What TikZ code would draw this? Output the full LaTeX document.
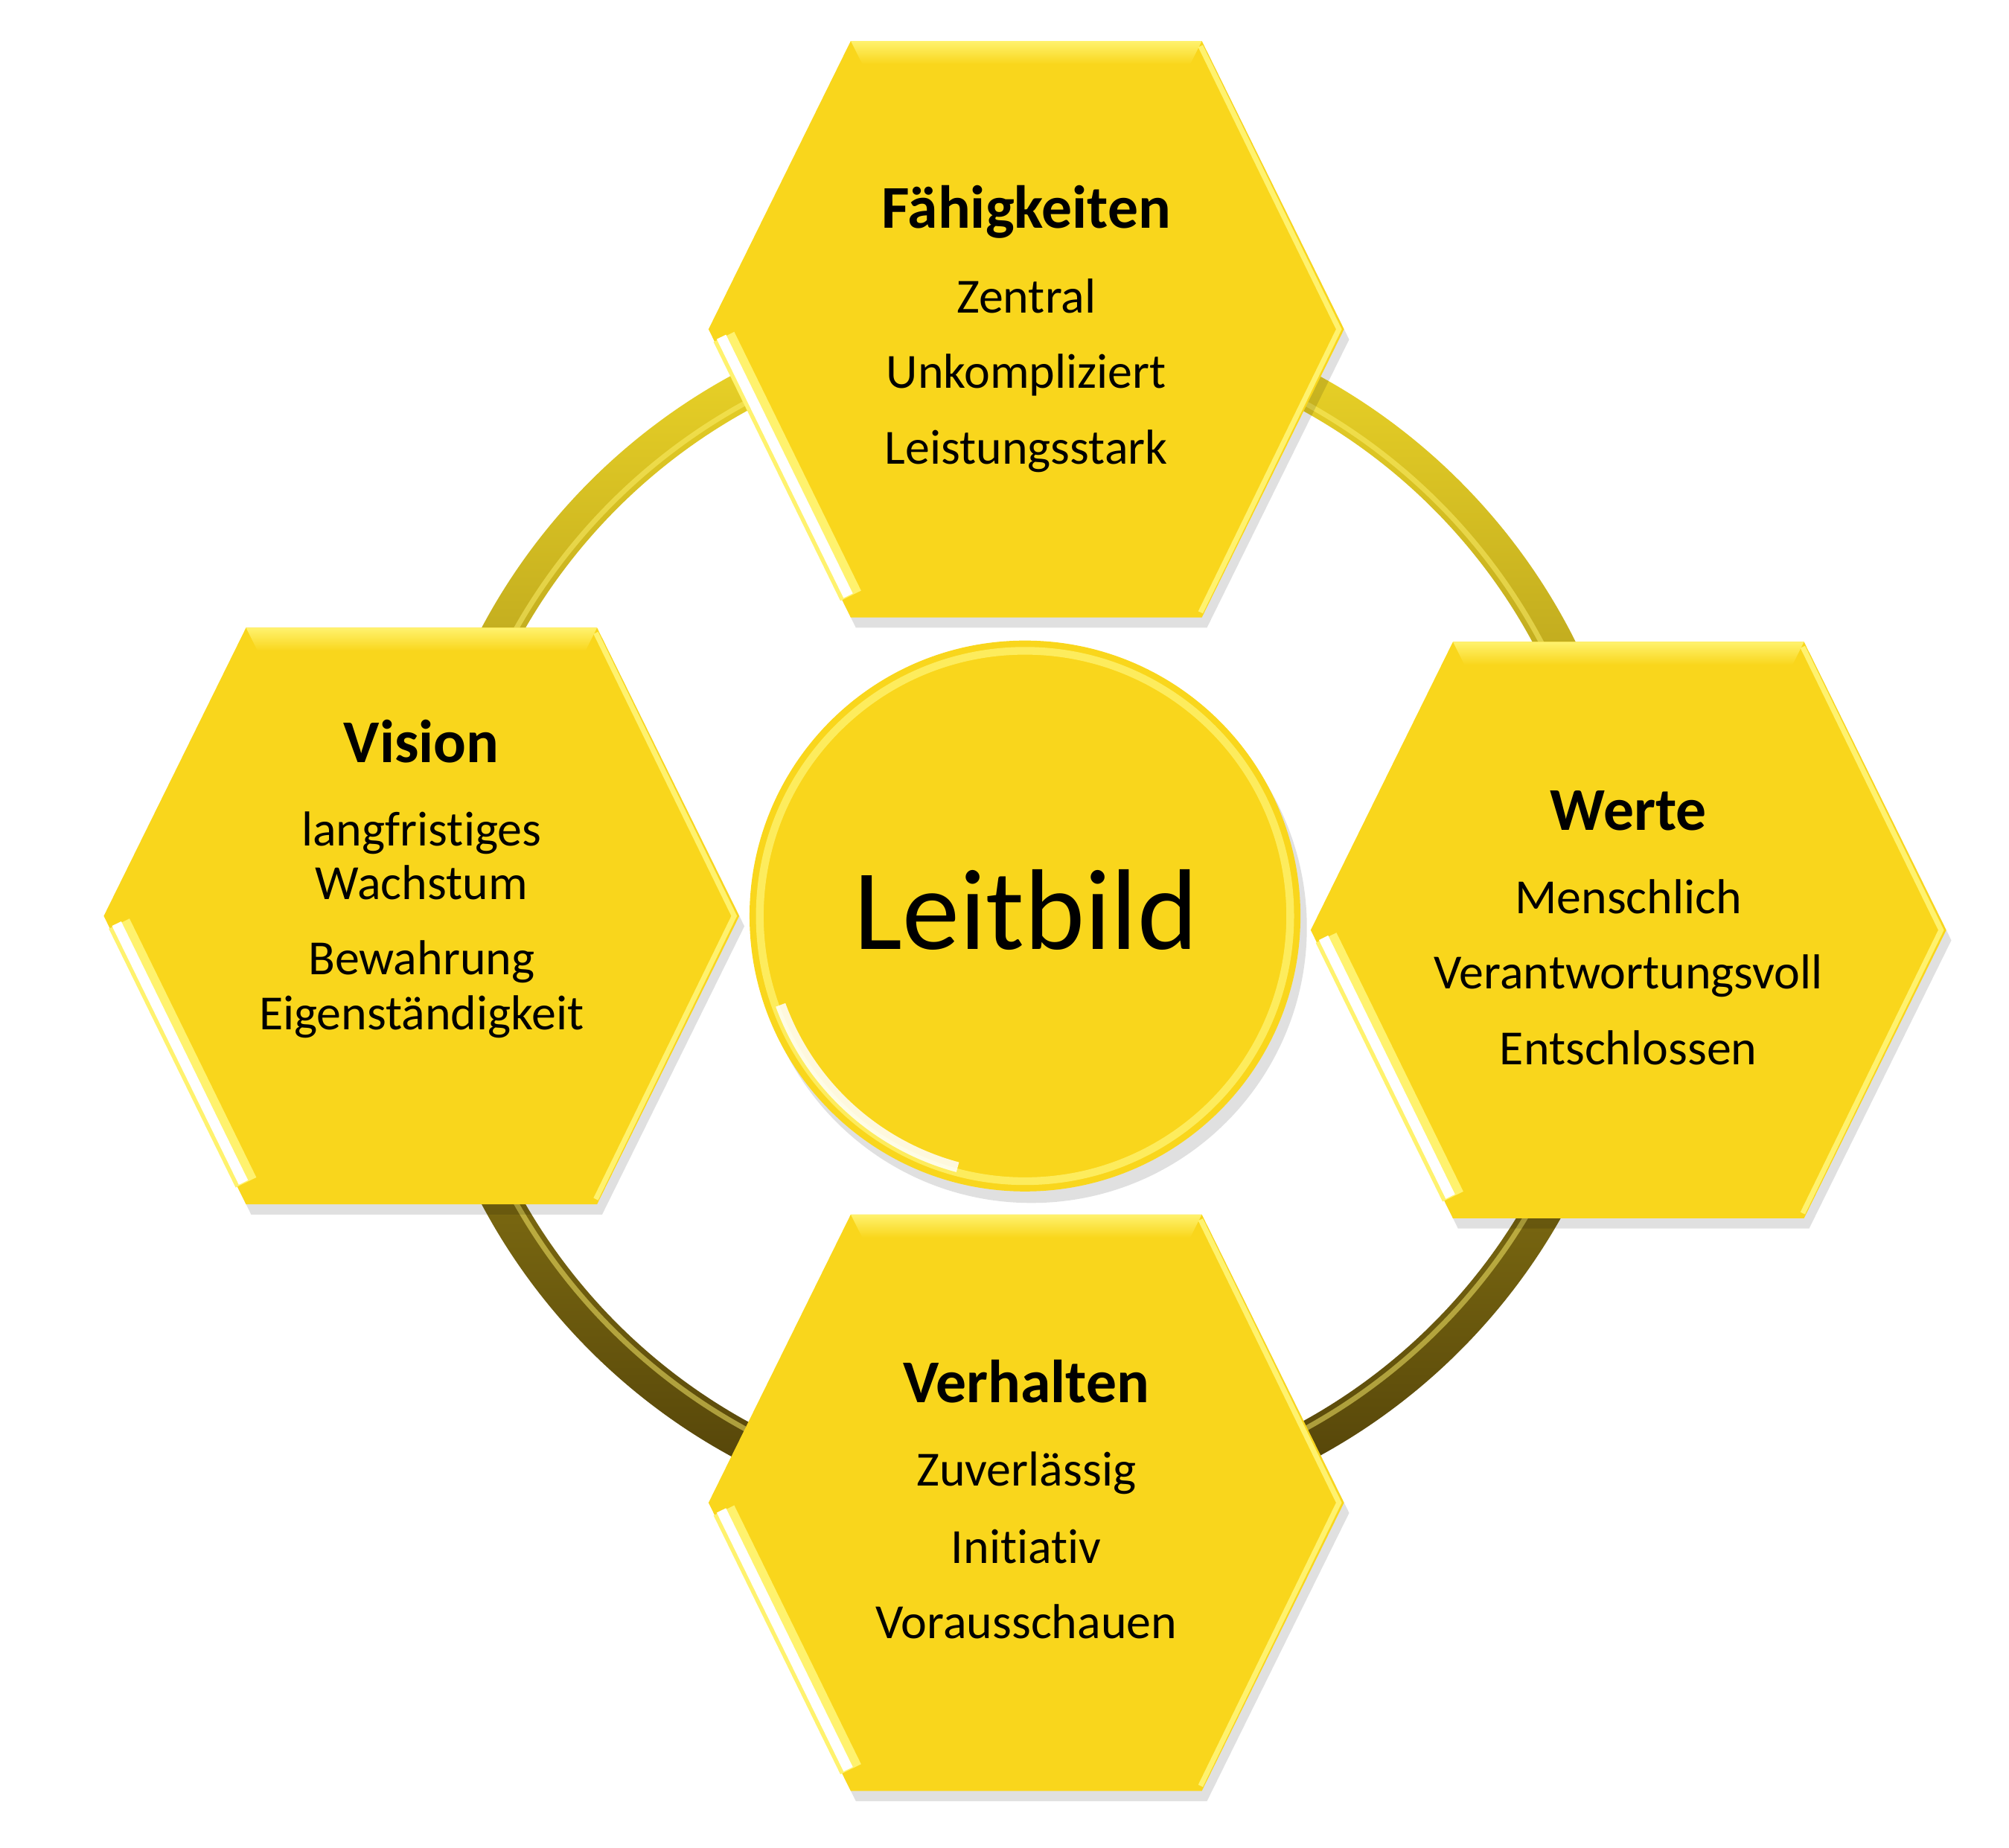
\documentclass[tikz,border=0pt]{standalone}
\usepackage{fontspec}
\setmainfont[Ligatures=NoCommon]{Carlito}
\definecolor{gelb}{RGB}{249,214,28}
\definecolor{hellgelb}{RGB}{255,242,110}
\definecolor{ringhell}{RGB}{240,216,40}
\definecolor{ringmitte}{RGB}{200,174,24}
\definecolor{ringdunkel}{RGB}{78,62,8}
\begin{document}
\begin{tikzpicture}[x=0.1mm,y=-0.1mm,
    titel/.style={font=\fontsize{13.5}{16}\selectfont\bfseries,anchor=base},
    zeile/.style={font=\fontsize{10.9}{13}\selectfont,anchor=base}]
  \useasboundingbox (0,0) rectangle (1568,1442);
  \shade[even odd rule,top color=ringhell,middle color=ringmitte,bottom color=ringdunkel]
    (800,715) circle (48mm) (800,715) circle (45mm);
  \draw[hellgelb,opacity=0.5,line width=0.4mm] (800,715) circle (45.6mm);
  \foreach \cx/\cy in {801/257,329/715,1271/726,801/1173} {
    \begin{scope}[shift={(\cx,\cy)}]
      \fill[black,opacity=0.12] (-244,8) -- (-133,233) -- (141,233) -- (252,8) -- (141,-217) -- (-133,-217) -- cycle;
      \fill[gelb] (-248,0) -- (-137,225) -- (137,225) -- (248,0) -- (137,-225) -- (-137,-225) -- cycle;
      \shade[top color=hellgelb,bottom color=gelb] (-137,-225) -- (137,-225) -- (128,-207) -- (-128,-207) -- cycle;
      \draw[hellgelb,line width=0.4mm] (136,-221) -- (244,0) -- (136,221);
      \draw[hellgelb,line width=1.8mm] (-236,6) -- (-137,208);
      \draw[white,line width=0.8mm] (-238,6) -- (-139,208);
    \end{scope}
  }
  \fill[black,opacity=0.12] (805,724) circle (21.5mm);
  \fill[gelb] (800,715) circle (21.5mm);
  \draw[hellgelb,line width=0.6mm,opacity=0.8] (800,715) circle (20.7mm);
  \draw[white,line width=0.8mm,opacity=0.85] (800,715) ++(200:20.3mm) arc[start angle=200,end angle=255,radius=20.3mm];
  \node[font=\fontsize{25.5}{30}\selectfont,anchor=base] (leitbild) at (801,741) {Leitbild};
  \node[titel] (faehT) at (801,178) {Fähigkeiten};
  \foreach \n/\y/\t in {1/244/Zentral,2/303/Unkompliziert,3/362/Leistungsstark}
    \node[zeile] (faeh\n) at (801,\y) {\t};
  \node[titel] (visT) at (329,595) {Vision};
  \foreach \n/\y/\t in {1/660/langfristiges,2/702/Wachstum,3/761/Bewahrung,4/804/Eigenständigkeit}
    \node[zeile] (vis\n) at (329,\y) {\t};
  \node[titel] (wertT) at (1271,648) {Werte};
  \foreach \n/\y/\t in {1/713/Menschlich,2/772/Verantwortungsvoll,3/831/Entschlossen}
    \node[zeile] (wert\n) at (1271,\y) {\t};
  \node[titel] (verhT) at (801,1095) {Verhalten};
  \foreach \n/\y/\t in {1/1160/Zuverlässig,2/1220/Initiativ,3/1279/Vorausschauen}
    \node[zeile] (verh\n) at (801,\y) {\t};
\end{tikzpicture}
\end{document}
